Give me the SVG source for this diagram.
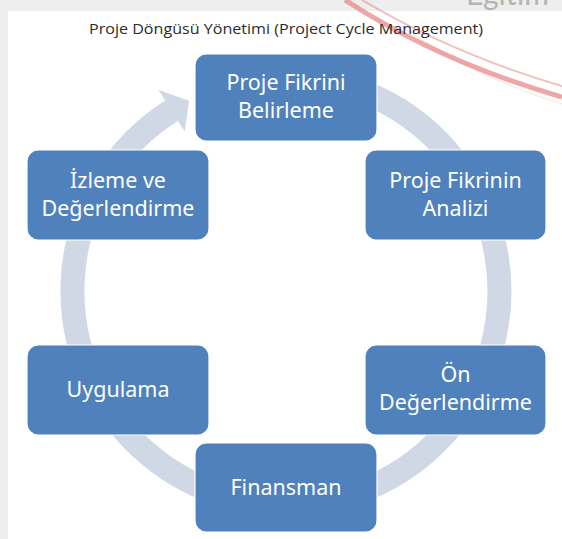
<svg xmlns="http://www.w3.org/2000/svg" width="562" height="539" viewBox="0 0 562 539">
<defs>
<style>
.box{fill:#4f81bd;stroke:#ffffff;stroke-width:1.2}
.lbl{font-family:"Noto Sans","Open Sans",sans-serif;font-size:21.5px;fill:#ffffff;text-anchor:middle}
.title{font-family:"Open Sans","Noto Sans",sans-serif;font-size:15px;fill:#2b2b2b;text-anchor:middle}
.red{fill:none;stroke:#e88a8a}
</style>
</defs>
<rect x="0" y="0" width="562" height="539" fill="#eeeeee"/>
<rect x="8" y="11" width="554" height="528" fill="#ffffff"/>
<text x="466" y="5" font-family="Lato, 'Noto Sans', sans-serif" font-size="30" fill="#b4b4b4">Eğitim</text>
<g id="decor">
<path class="red" d="M345,0 Q440,62 562,97" stroke-width="5" opacity="0.75"/>
<path class="red" d="M362,0 Q455,55 562,86" stroke-width="2" opacity="0.55"/>
<path class="red" d="M395,22 Q475,78 562,104" stroke-width="1.2" opacity="0.2"/>
</g>
<text class="title" x="286" y="34" textLength="394" lengthAdjust="spacingAndGlyphs">Proje Döngüsü Yönetimi (Project Cycle Management)</text>
<g id="connectors">
<path d="M267.4,78.3 A213.5,213.5 0 1 1 171.6,110.7" fill="none" stroke="#d0d8e6" stroke-width="24"/>
<polygon points="158.5,90.1 189.1,100.8 184.7,131.4" fill="#d0d8e6"/>
</g>
<g id="n1"><rect class="box" x="195" y="54" width="182" height="87" rx="11"/><text class="lbl" x="286" y="90">Proje Fikrini</text><text class="lbl" x="286" y="118">Belirleme</text></g>
<g id="n2"><rect class="box" x="365" y="150" width="181" height="90" rx="11"/><text class="lbl" x="455.5" y="188">Proje Fikrinin</text><text class="lbl" x="455.5" y="216">Analizi</text></g>
<g id="n3"><rect class="box" x="365" y="345" width="181" height="90" rx="11"/><text class="lbl" x="455.5" y="382">Ön</text><text class="lbl" x="455.5" y="410">Değerlendirme</text></g>
<g id="n4"><rect class="box" x="195" y="443" width="182" height="89" rx="11"/><text class="lbl" x="286" y="494.5">Finansman</text></g>
<g id="n5"><rect class="box" x="27" y="345" width="182" height="90" rx="11"/><text class="lbl" x="118" y="397">Uygulama</text></g>
<g id="n6"><rect class="box" x="27" y="150" width="182" height="90" rx="11"/><text class="lbl" x="118" y="188">İzleme ve</text><text class="lbl" x="118" y="216">Değerlendirme</text></g>
</svg>
